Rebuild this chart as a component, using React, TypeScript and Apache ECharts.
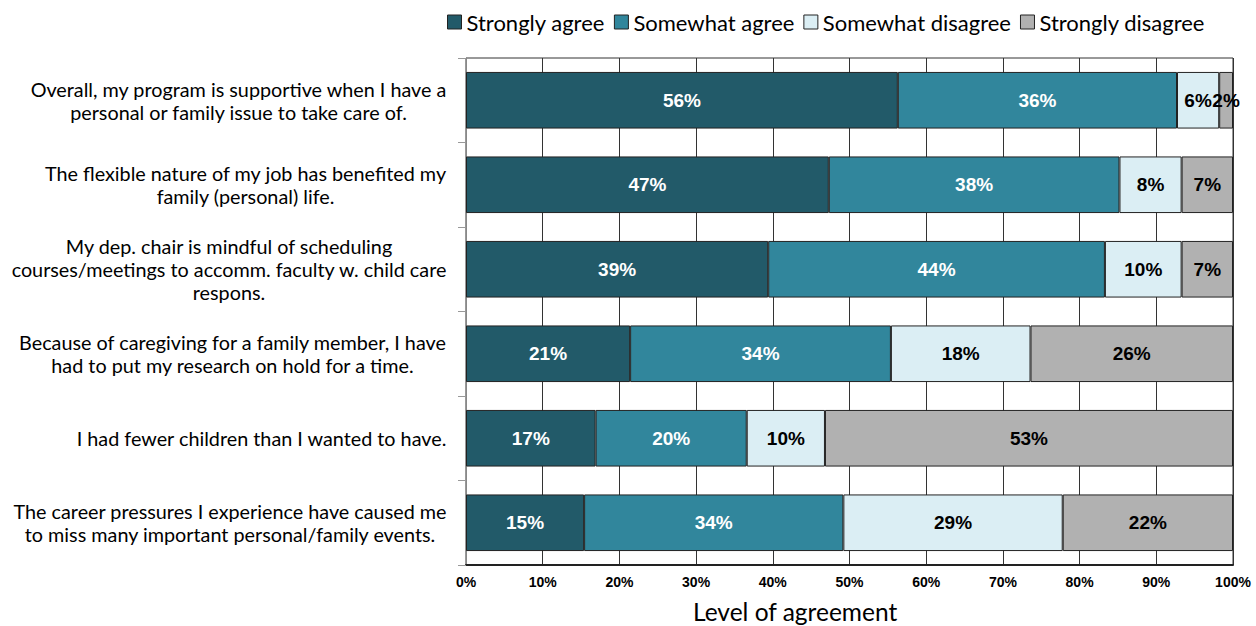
import React, { useEffect, useRef } from "react";
import * as echarts from "echarts";

const categories = [
  "Overall, my program is supportive when I have a\npersonal or family issue to take care of.",
  "The flexible nature of my job has benefited my\nfamily (personal) life.",
  "My dep. chair is mindful of scheduling\ncourses/meetings to accomm. faculty w. child care\nrespons.",
  "Because of caregiving for a family member, I have\nhad to put my research on hold for a time.",
  "I had fewer children than I wanted to have.",
  "The career pressures I experience have caused me\nto miss many important personal/family events.",
];

const seriesNames = ["Strongly agree", "Somewhat agree", "Somewhat disagree", "Strongly disagree"];
const stronglyAgree = [56.3, 47.3, 39.4, 21.4, 16.9, 15.4];
const somewhatAgree = [36.4, 37.9, 43.9, 34.0, 19.7, 33.8];
const somewhatDisagree = [5.5, 8.1, 10.0, 18.2, 10.2, 28.6];
const stronglyDisagree = [1.8, 6.7, 6.7, 26.4, 53.2, 22.2];
const xTicks = [0, 10, 20, 30, 40, 50, 60, 70, 80, 90, 100];

const colors = ["#225a69", "#31869c", "#dbeef4", "#b1b1b1"];
const labelColors = ["#ffffff", "#ffffff", "#000000", "#000000"];

const CAT_FONT = "Lato";
const CAT_SIZE = 19.8;

function measure(text: string): number {
  const c = document.createElement("canvas").getContext("2d");
  if (!c) return text.length * CAT_SIZE * 0.45;
  c.font = `${CAT_SIZE}px ${CAT_FONT}`;
  return c.measureText(text).width;
}

export default function App() {
  const ref = useRef<HTMLDivElement>(null);
  useEffect(() => {
    if (!ref.current) return;
    const chart = echarts.init(ref.current, null, { renderer: "svg" });
    const values = [stronglyAgree, somewhatAgree, somewhatDisagree, stronglyDisagree];
    const rich: Record<string, any> = {};
    categories.forEach((cat, i) => {
      const w = Math.max(...cat.split("\n").map(measure));
      rich["c" + i] = {
        width: Math.ceil(w) + 2,
        align: "center",
        fontFamily: CAT_FONT,
        fontSize: CAT_SIZE,
        lineHeight: 23,
        color: "#000",
      };
    });
    chart.setOption({
      animation: false,
      backgroundColor: "#ffffff",
      legend: {
        top: 6,
        left: 442,
        itemWidth: 14,
        itemHeight: 14,
        itemGap: 9,
        icon: "rect",
        textStyle: { fontFamily: "Lato", fontSize: 22, color: "#000" },
        data: seriesNames.map((n, i) => ({
          name: n,
          itemStyle: { color: colors[i], borderColor: "#222", borderWidth: 1 },
        })),
      },
      grid: {
        left: 466,
        right: 23,
        top: 58,
        bottom: 61,
        show: true,
        borderColor: "#333",
        borderWidth: 1,
        backgroundColor: "transparent",
      },
      xAxis: {
        type: "value",
        min: 0,
        max: 100,
        interval: 10,
        axisLine: { show: true, lineStyle: { color: "#222", width: 2 } },
        axisTick: { show: false },
        splitLine: { show: true, lineStyle: { color: "#333", width: 1 } },
        axisLabel: {
          formatter: (v: number) => (xTicks.includes(v) ? v + "%" : ""),
          fontFamily: "Liberation Sans",
          fontWeight: "bold",
          fontSize: 14,
          color: "#000",
          margin: 10,
        },
      },
      yAxis: {
        type: "category",
        inverse: true,
        data: categories,
        axisLine: { show: true, lineStyle: { color: "#888", width: 1 } },
        axisTick: { show: true, length: 8, lineStyle: { color: "#999" } },
        axisLabel: {
          fontFamily: CAT_FONT,
          fontSize: CAT_SIZE,
          lineHeight: 23,
          color: "#000",
          align: "right",
          margin: 18,
          rich,
          formatter: (v: string, idx: number) =>
            v
              .split("\n")
              .map((line) => `{c${idx}|${line}}`)
              .join("\n"),
        },
      },
      graphic: [
        {
          type: "text",
          left: 693,
          top: 599,
          style: { text: "Level of agreement", fontFamily: "Lato", fontSize: 24.5, fill: "#000" },
        },
      ],
      series: seriesNames.map((name, i) => ({
        name,
        type: "bar",
        stack: "total",
        barCategoryGap: "33%",
        data: values[i],
        itemStyle: { color: colors[i], borderColor: "#222", borderWidth: 1 },
        label: {
          show: true,
          position: "inside",
          formatter: (p: any) => Math.round(p.value) + "%",
          fontFamily: "Liberation Sans",
          fontWeight: "bold",
          fontSize: 19,
          color: labelColors[i],
        },
      })),
    });
    return () => chart.dispose();
  }, []);
  return <div ref={ref} style={{ width: 1256, height: 626, position: "absolute", left: 0, top: 0 }} />;
}
